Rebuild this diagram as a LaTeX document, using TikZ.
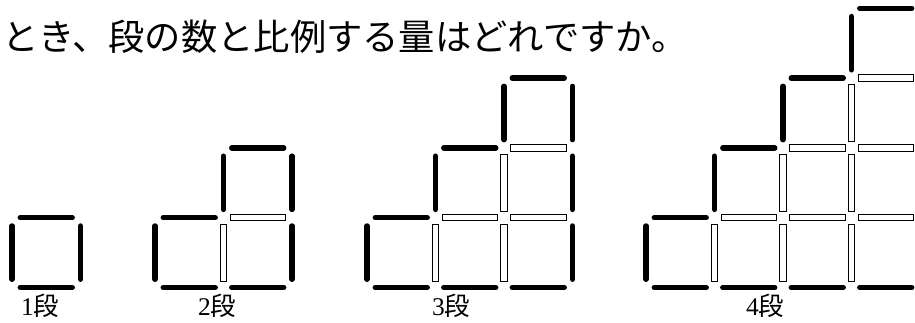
\documentclass[tikz,border=0pt]{standalone}
\usepackage{fontspec}
\setmainfont{Liberation Serif}
\newfontfamily\jp{Noto Sans CJK JP}
\tikzset{
  blk/.style={line width=5.5pt, line cap=round, draw=black},
  hol/.style={line width=0.9pt, draw=black, fill=white},
  title/.style={font=\jp\fontsize{36.3}{40}\selectfont, inner sep=0pt, anchor=base west},
  steplabel/.style={font=\fontsize{25.5}{28}\selectfont, inner sep=0pt, anchor=base west},
}
\def\cw{68.5}\def\ch{69.8}\def\bg{8.3}\def\hg{6.5}
\newcommand\BH[2]{\draw[blk] ({(#1)*\cw+\bg},{(#2)*\ch}) -- ({((#1)+1)*\cw-\bg},{(#2)*\ch});}
\newcommand\BV[2]{\draw[blk] ({(#1)*\cw},{(#2)*\ch+\bg}) -- ({(#1)*\cw},{((#2)+1)*\ch-\bg});}
\newcommand\HH[2]{\draw[hol] ({(#1)*\cw+\hg},{(#2)*\ch-3.2}) rectangle ({((#1)+1)*\cw-\hg},{(#2)*\ch+3.2});}
\newcommand\HV[2]{\draw[hol] ({(#1)*\cw-3.2},{(#2)*\ch+\hg}) rectangle ({(#1)*\cw+3.2},{((#2)+1)*\ch-\hg});}
\newcommand\Stair[2]{%
  \begin{scope}[shift={(#1,34.5)}]
    \foreach \c in {1,...,#2} {\BH{\c-1}{0}\BH{\c-1}{\c}\BV{\c-1}{\c-1}\BV{#2}{\c-1}}
    \ifnum#2>1
      \pgfmathtruncatemacro\nm{#2-1}
      \foreach \c in {1,...,\nm} {\foreach \l in {1,...,\c} {\HH{\c}{\l}\HV{\c}{\l-1}}}
    \fi
  \end{scope}}
\begin{document}
\begin{tikzpicture}[x=1pt,y=1pt]
  \clip (0,0) rectangle (915,322);
  \fill[white] (0,0) rectangle (915,322);
  \node[title] (question) at (2,271) {とき、段の数と比例する量はどれですか。};
  \Stair{12}{1}
  \Stair{155}{2}
  \Stair{367}{3}
  \Stair{646}{4}
  \node[steplabel] (l1) at (21,7) {1{\jp 段}};
  \node[steplabel] (l2) at (198,7) {2{\jp 段}};
  \node[steplabel] (l3) at (432,7) {3{\jp 段}};
  \node[steplabel] (l4) at (746,7) {4{\jp 段}};
\end{tikzpicture}
\end{document}
